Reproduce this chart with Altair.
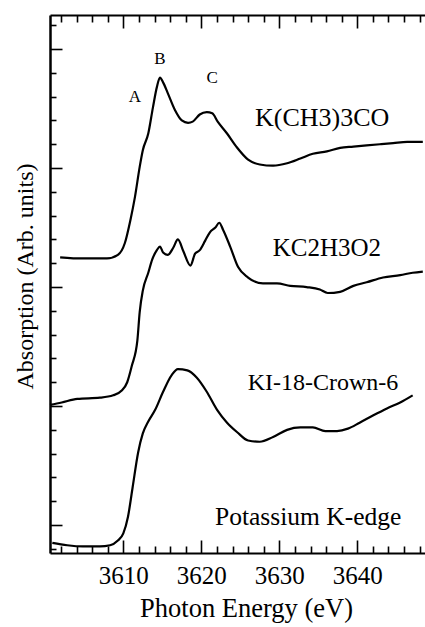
import altair as alt
import pandas as pd

# ---- data (Photon energy in eV, absorption in arb. units) ----
k_tbuo_e = [3601.9, 3604.8, 3607.9, 3609.3, 3610.2, 3610.9, 3611.5, 3612.1, 3612.5, 3613.2,
            3613.8, 3614.3, 3614.7, 3615.1, 3615.7, 3616.6, 3617.5, 3618.3, 3618.9, 3619.8,
            3620.7, 3621.4, 3622.1, 3623.3, 3624.6, 3626.0, 3627.5, 3629.2, 3631.0, 3632.7,
            3634.3, 3636.1, 3637.8, 3639.5, 3641.2, 3642.9, 3644.6, 3646.4, 3648.4]
k_tbuo_a = [2.25, 2.24, 2.24, 2.27, 2.37, 2.56, 2.76, 3.01, 3.15, 3.29,
            3.51, 3.68, 3.76, 3.72, 3.63, 3.49, 3.40, 3.38, 3.39, 3.45,
            3.47, 3.46, 3.39, 3.29, 3.17, 3.07, 3.03, 3.02, 3.04, 3.08,
            3.12, 3.14, 3.17, 3.18, 3.19, 3.20, 3.21, 3.22, 3.22]

k_ac_e = [3600.6, 3602.1, 3604.1, 3607.0, 3608.7, 3609.8, 3610.5, 3611.1, 3611.8, 3612.1,
          3612.5, 3613.2, 3613.7, 3614.3, 3614.7, 3615.1, 3615.7, 3616.4, 3617.0, 3617.7,
          3618.6, 3619.2, 3619.8, 3620.5, 3621.1, 3621.8, 3622.3, 3622.8, 3623.7, 3624.7,
          3626.0, 3627.9, 3629.7, 3631.4, 3633.5, 3635.2, 3636.2, 3637.8, 3639.5, 3641.2,
          3643.3, 3645.5, 3647.1, 3648.4]
k_ac_a = [1.01, 1.03, 1.06, 1.07, 1.09, 1.13, 1.20, 1.34, 1.55, 1.79,
          1.97, 2.12, 2.23, 2.31, 2.34, 2.29, 2.27, 2.33, 2.40, 2.30,
          2.18, 2.28, 2.31, 2.39, 2.46, 2.50, 2.54, 2.48, 2.34, 2.17,
          2.08, 2.03, 2.03, 2.01, 2.00, 1.98, 1.95, 1.96, 2.01, 2.04,
          2.08, 2.10, 2.12, 2.13]

k_crown_e = [3600.9, 3602.8, 3604.8, 3607.0, 3608.3, 3609.3, 3610.0, 3610.6, 3611.2, 3611.9,
             3612.5, 3613.2, 3614.1, 3615.1, 3616.2, 3617.0, 3618.2, 3619.4, 3620.7, 3622.0,
             3623.3, 3624.6, 3626.0, 3627.5, 3629.2, 3631.0, 3632.7, 3634.3, 3635.9, 3637.4,
             3638.8, 3640.3, 3642.0, 3643.8, 3645.5, 3647.1]
k_crown_a = [-0.15, -0.17, -0.18, -0.18, -0.17, -0.13, -0.07, 0.07, 0.32, 0.61,
             0.77, 0.87, 0.97, 1.12, 1.26, 1.31, 1.30, 1.24, 1.12, 0.97,
             0.86, 0.78, 0.71, 0.70, 0.74, 0.80, 0.82, 0.82, 0.79, 0.79,
             0.81, 0.86, 0.92, 0.98, 1.03, 1.09]

# annotations (text, energy, absorption, font size)
ann_text = ["A", "B", "C", "K(CH3)3CO", "KC2H3O2", "KI-18-Crown-6", "Potassium K-edge"]
ann_e = [3611.5, 3614.7, 3621.4, 3635.5, 3636.1, 3635.6, 3633.7]
ann_a = [3.60, 3.92, 3.76, 3.42, 2.33, 1.19, 0.07]
ann_size = [17, 17, 17, 26, 25, 24, 25.5]

x_major = [3610, 3620, 3630, 3640]
x_ticks = list(range(3602, 3649, 2))
y_ticks = [round(-0.2 + 0.2 * i, 1) for i in range(23)]

# ---- build tables ----
rows = []
for name, es, as_ in [("K(CH3)3CO", k_tbuo_e, k_tbuo_a),
                      ("KC2H3O2", k_ac_e, k_ac_a),
                      ("KI-18-Crown-6", k_crown_e, k_crown_a)]:
    for e, a in zip(es, as_):
        rows.append({"series": name, "energy": e, "absorb": a})
df = pd.DataFrame(rows)
ann = pd.DataFrame({"label": ann_text, "ex": ann_e, "ay": ann_a, "fs": ann_size})

W, H = 375, 538
FONT = "Liberation Serif"
x_scale = alt.Scale(domain=[3600.6, 3648.68], nice=False, zero=False)
y_scale = alt.Scale(domain=[-0.235, 4.286], nice=False, zero=False)

x_cond = {"condition": {"test": "datum.value % 10 === 0", "value": 13}, "value": 7}
y_cond = {"condition": {"test": "abs(datum.value - round(datum.value)) < 0.01", "value": 12}, "value": 6}

base = alt.Chart(df)

lines = base.mark_line(color="black", strokeWidth=2.2, interpolate="monotone").encode(
    x=alt.X("energy:Q", scale=x_scale,
            axis=alt.Axis(orient="bottom", values=x_major, ticks=False, domain=True,
                          domainColor="black", domainWidth=2, grid=False, format="d",
                          labelFont=FONT, labelFontSize=25, labelColor="black", labelPadding=10,
                          title="Photon Energy (eV)", titleFont=FONT, titleFontSize=26.5,
                          titleFontWeight="normal", titleColor="black", titlePadding=7,
                          titleX=196)),
    y=alt.Y("absorb:Q", scale=y_scale,
            axis=alt.Axis(orient="left", labels=False, ticks=False, domain=True,
                          domainColor="black", domainWidth=2.5, grid=False,
                          title="Absorption  (Arb. units)", titleFont=FONT, titleFontSize=24,
                          titleFontWeight="normal", titleColor="black", titlePadding=13,
                          titleY=261)),
    detail="series:N",
)

ticks_a = base.mark_line(opacity=0).encode(
    x=alt.X("energy:Q", scale=x_scale,
            axis=alt.Axis(orient="top", offset=-H, values=x_ticks, labels=False, domain=False,
                          grid=False, tickColor="black", tickWidth=1.6, tickSize=x_cond, title="")),
    y=alt.Y("absorb:Q", scale=y_scale,
            axis=alt.Axis(orient="right", offset=-W, values=y_ticks, labels=False, domain=False,
                          grid=False, tickColor="black", tickWidth=1.6, tickSize=y_cond, title="")),
    detail="series:N",
)

ticks_b = base.mark_line(opacity=0).encode(
    x=alt.X("energy:Q", scale=x_scale,
            axis=alt.Axis(orient="bottom", offset=-H, values=x_ticks, labels=False, domain=True,
                          domainColor="black", domainWidth=2, grid=False, tickColor="black",
                          tickWidth=1.6, tickSize=x_cond, title="")),
    y=alt.Y("absorb:Q", scale=y_scale, axis=None),
    detail="series:N",
)

texts = alt.Chart(ann).mark_text(font=FONT, color="black", baseline="middle", align="center").encode(
    x=alt.X("ex:Q", scale=x_scale, axis=None),
    y=alt.Y("ay:Q", scale=y_scale, axis=None),
    text="label:N",
    size=alt.Size("fs:Q", scale=None, legend=None),
)

chart = alt.layer(lines, ticks_a, ticks_b, texts).resolve_axis(
    x="independent", y="independent"
).properties(
    width=W, height=H,
    autosize=alt.AutoSizeParams(type="none"),
    padding={"left": 50, "top": 15, "right": 0, "bottom": 74},
    background="white",
).configure_view(strokeWidth=0)

chart.save("out.html", embed_options={"renderer": "svg", "actions": False})
